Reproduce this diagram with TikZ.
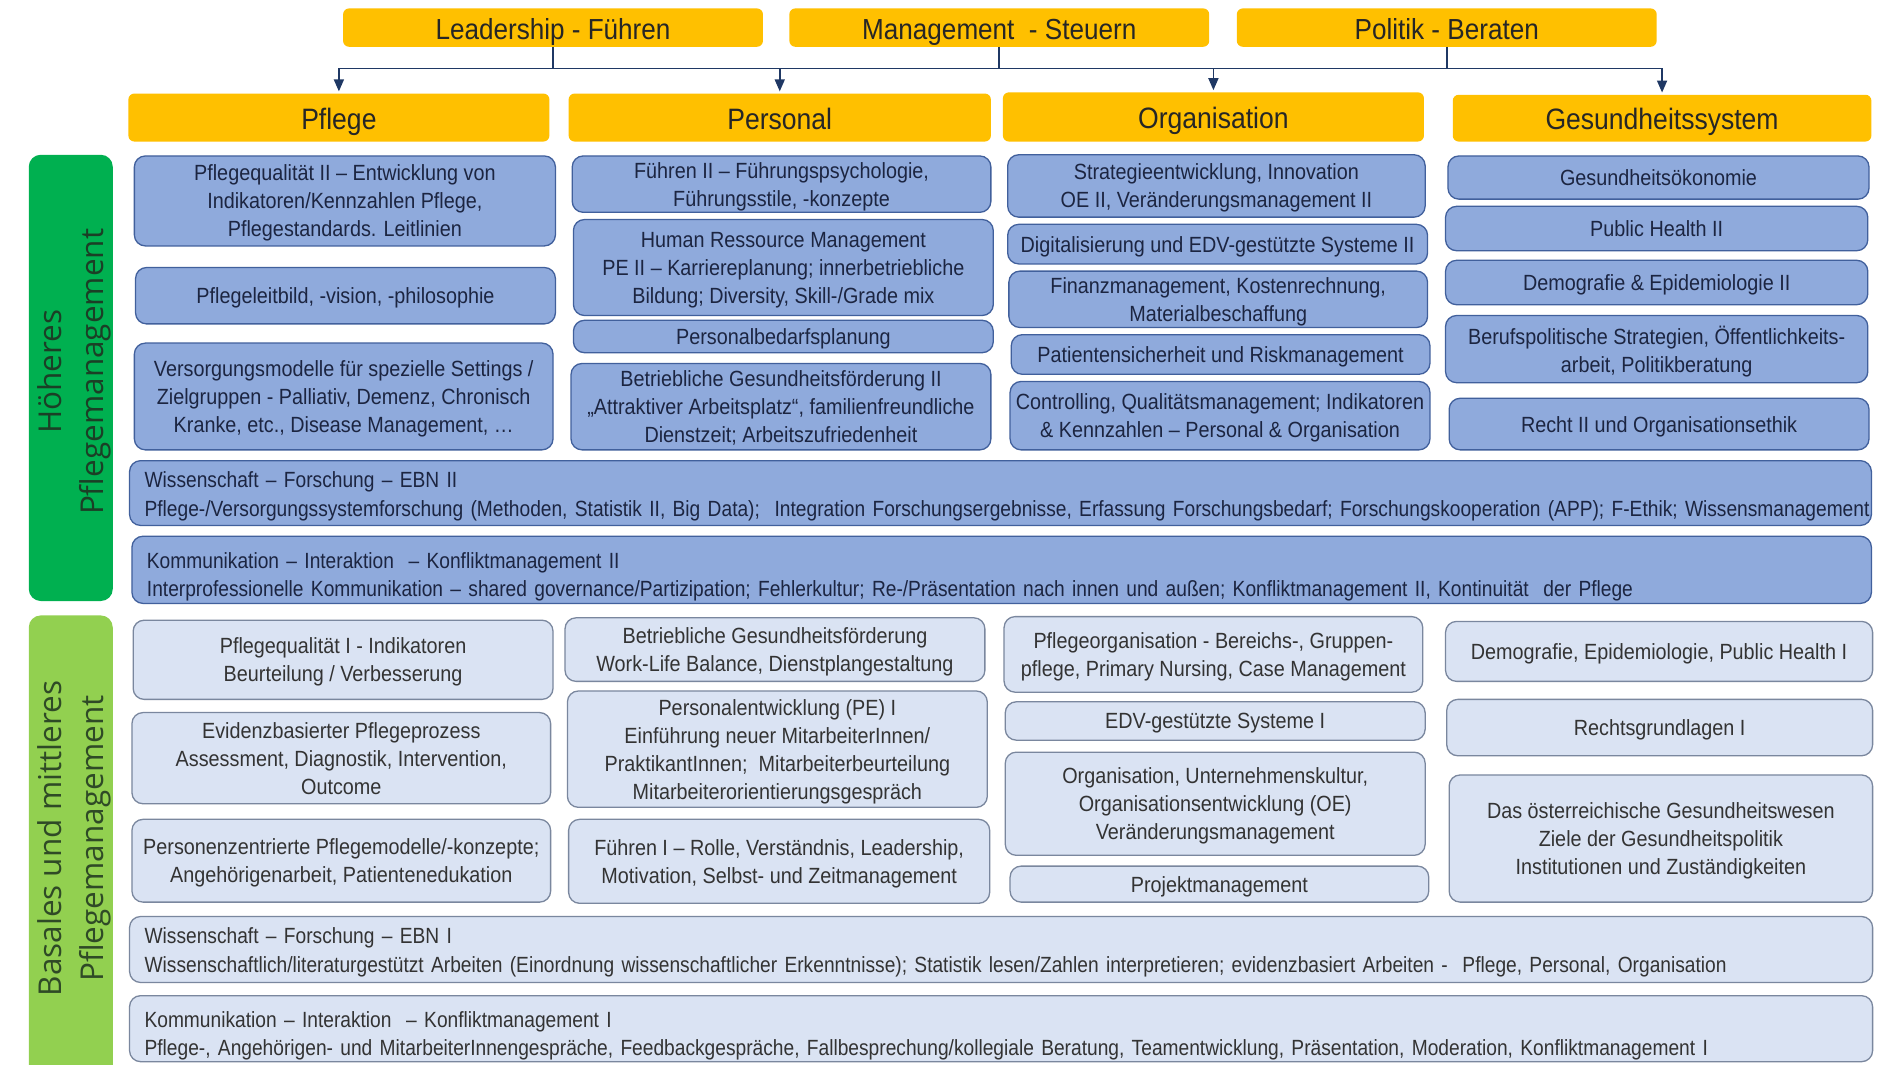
\documentclass[tikz,border=0pt]{standalone}
\usepackage{fontspec}
\setmainfont{Liberation Sans}[FakeStretch=0.9]
\newfontfamily\narrowfont{Liberation Sans}[FakeStretch=0.872]
\newfontfamily\sidefont{Open Sans}
\usetikzlibrary{arrows.meta,backgrounds}
\definecolor{ygold}{HTML}{FFC000}
\definecolor{gdark}{HTML}{00B050}
\definecolor{glight}{HTML}{92D050}
\definecolor{bfill}{HTML}{8FAADC}
\definecolor{bdraw}{HTML}{41609C}
\definecolor{lfill}{HTML}{DAE3F3}
\definecolor{ldraw}{HTML}{7A879E}
\definecolor{navy}{HTML}{1F3864}
\definecolor{btext}{HTML}{1C2541}
\definecolor{ltext}{HTML}{333333}
\definecolor{vline}{HTML}{404040}
\definecolor{sidetxtA}{HTML}{1B3F26}
\definecolor{sidetxtB}{HTML}{2F4A26}
\newcommand\mkbox[7]{%
  \pgfmathsetmacro\mkW{1.2*(#4-#2)}%
  \pgfmathsetmacro\mkH{1.2*(#5-#3)}%
  \pgfmathsetmacro\mkT{1.2*(#4-#2)-30}%
  \node[#6,minimum width=\mkW pt,minimum height=\mkH pt] (#1) at ({(#2+#4)/2},{(#3+#5)/2}) {#7};%
}
\newcommand\topstrut{\rule{0pt}{30pt}}
\newcommand\wstrut{\rule{0pt}{22pt}}
\tikzset{
  topbar/.style={fill=ygold,rounded corners=6pt,inner sep=0pt,text=black!85,font=\fontsize{29}{34}\selectfont,text height=25pt,text depth=2pt},
  catbar/.style={fill=ygold,rounded corners=6pt,inner sep=0pt,text=black!85,font=\fontsize{29.5}{34}\selectfont,text height=25pt,text depth=2pt},
  sidebar/.style={rounded corners=12pt,inner sep=0pt},
  sidetext/.style={font=\sidefont\fontsize{31.5}{42}\selectfont,align=center,inner sep=0pt},
  hcol/.style={draw=bdraw,fill=bfill,line width=1.3pt,rounded corners=11pt,inner sep=0pt,text=btext},
  lcol/.style={draw=ldraw,fill=lfill,line width=1.3pt,rounded corners=11pt,inner sep=0pt,text=ltext},
  hbox/.style={hcol,align=center,font=\fontsize{22}{28}\selectfont,text depth=0pt},
  lbox/.style={lcol,align=center,font=\fontsize{22}{28}\selectfont,text depth=0pt},
  hwide/.style={hcol,align=left,text width=\mkT pt,inner xsep=15pt,inner ysep=0pt,font=\narrowfont\fontsize{22}{28.5}\selectfont},
  lwide/.style={lcol,align=left,text width=\mkT pt,inner xsep=15pt,inner ysep=0pt,font=\narrowfont\fontsize{22}{28.5}\selectfont},
  con/.style={draw=navy,line width=1.6pt},
  vl/.style={draw=vline,line width=1.4pt},
}
\begin{document}
\begin{tikzpicture}[x=1.2pt,y=-1.2pt]
\fill[white] (0,0) rectangle (1568,887);
\useasboundingbox (0,0) rectangle (1568,887);
% top bars
\mkbox{lead}{286}{7}{636}{39}{topbar}{Leadership - Führen}
\mkbox{mgmt}{658}{7}{1008}{39}{topbar}{Management\ \ - Steuern}
\mkbox{pol}{1031}{7}{1381}{39}{topbar}{Politik - Beraten}
% category bars
\mkbox{pflege}{107}{78}{458}{118}{catbar}{Pflege}
\mkbox{personal}{474}{78}{826}{118}{catbar}{Personal}
\mkbox{orga}{836}{77}{1187}{118}{catbar}{Organisation}
\mkbox{gesund}{1211}{79}{1560}{118}{catbar}{Gesundheitssystem}
% side bars
\mkbox{hoeher}{24}{129}{94}{501}{sidebar,fill=gdark}{}
\node[sidetext,rotate=90,text=sidetxtA] (hoehertxt) at (62,310) {Höheres\\Pflegemanagement};
\mkbox{basal}{24}{513}{94}{900}{sidebar,fill=glight}{}
\node[sidetext,rotate=90,text=sidetxtB] (basaltxt) at (62,699) {Basales und mittleres\\Pflegemanagement};
% higher: Pflege
\mkbox{p1}{112}{130}{463}{205}{hbox}{Pflegequalität II – Entwicklung von\\Indikatoren/Kennzahlen Pflege,\\Pflegestandards. Leitlinien}
\mkbox{p2}{113}{223}{463}{270}{hbox}{Pflegeleitbild, -vision, -philosophie}
\mkbox{p3}{112}{286}{461}{375}{hbox}{Versorgungsmodelle für spezielle Settings /\\Zielgruppen - Palliativ, Demenz, Chronisch\\Kranke, etc., Disease Management, …}
% higher: Personal
\mkbox{q1}{477}{130}{826}{177}{hbox}{Führen II – Führungspsychologie,\\Führungsstile, -konzepte}
\mkbox{q2}{478}{183}{828}{263}{hbox}{Human Ressource Management\\PE II – Karriereplanung; innerbetriebliche\\Bildung; Diversity, Skill-/Grade mix}
\mkbox{q3}{478}{267}{828}{294}{hbox}{Personalbedarfsplanung}
\mkbox{q4}{476}{303}{826}{375}{hbox}{Betriebliche Gesundheitsförderung II\\„Attraktiver Arbeitsplatz“, familienfreundliche\\Dienstzeit; Arbeitszufriedenheit}
% higher: Organisation
\mkbox{o1}{840}{129}{1188}{181}{hbox}{Strategieentwicklung, Innovation\\OE II, Veränderungsmanagement II}
\mkbox{o2}{840}{187}{1190}{220}{hbox}{Digitalisierung und EDV-gestützte Systeme II}
\mkbox{o3}{841}{226}{1190}{273}{hbox}{Finanzmanagement, Kostenrechnung,\\Materialbeschaffung}
\mkbox{o4}{843}{279}{1192}{312}{hbox}{Patientensicherheit und Riskmanagement}
\mkbox{o5}{842}{318}{1192}{375}{hbox}{Controlling, Qualitätsmanagement; Indikatoren\\\& Kennzahlen – Personal \& Organisation}
% higher: Gesundheitssystem
\mkbox{g1}{1207}{130}{1558}{166}{hbox}{Gesundheitsökonomie}
\mkbox{g2}{1205}{172}{1557}{209}{hbox}{Public Health II}
\mkbox{g3}{1205}{217}{1557}{254}{hbox}{Demografie \& Epidemiologie II}
\mkbox{g4}{1205}{263}{1557}{319}{hbox}{Berufspolitische Strategien, Öffentlichkeits-\\arbeit, Politikberatung}
\mkbox{g5}{1208}{332}{1558}{375}{hbox}{Recht II und Organisationsethik}
% higher wide
\mkbox{wiss2}{108}{384}{1560}{438}{hwide}{\mbox{\wstrut Wissenschaft – Forschung – EBN II}\\\mbox{Pflege-/Versorgungssystemforschung (Methoden, Statistik II, Big Data);\ \ Integration Forschungsergebnisse, Erfassung Forschungsbedarf; Forschungskooperation (APP); F-Ethik; Wissensmanagement}}
\mkbox{kom2}{110}{447}{1560}{503}{hwide}{\mbox{\topstrut Kommunikation – Interaktion\ \ – Konfliktmanagement II}\\\mbox{Interprofessionelle Kommunikation – shared governance/Partizipation; Fehlerkultur; Re-/Präsentation nach innen und außen; Konfliktmanagement II, Kontinuität\ \ der Pflege}}
% lower: Pflege
\mkbox{lp1}{111}{517}{461}{583}{lbox}{Pflegequalität I - Indikatoren\\Beurteilung / Verbesserung}
\mkbox{lp2}{110}{594}{459}{670}{lbox}{Evidenzbasierter Pflegeprozess\\Assessment, Diagnostik, Intervention,\\Outcome}
\mkbox{lp3}{110}{683}{459}{752}{lbox}{Personenzentrierte Pflegemodelle/-konzepte;\\Angehörigenarbeit, Patientenedukation}
% lower: Personal
\mkbox{lq1}{471}{515}{821}{568}{lbox}{Betriebliche Gesundheitsförderung\\Work-Life Balance, Dienstplangestaltung}
\mkbox{lq2}{473}{576}{823}{673}{lbox}{Personalentwicklung (PE) I\\Einführung\ neuer MitarbeiterInnen/\\PraktikantInnen;\ \ Mitarbeiterbeurteilung\\Mitarbeiterorientierungsgespräch}
\mkbox{lq3}{474}{683}{825}{753}{lbox}{Führen I – Rolle, Verständnis, Leadership,\\Motivation, Selbst- und Zeitmanagement}
% lower: Organisation
\mkbox{lo1}{837}{514}{1186}{577}{lbox}{Pflegeorganisation - Bereichs-, Gruppen-\\pflege, Primary Nursing, Case Management}
\mkbox{lo2}{838}{585}{1188}{617}{lbox}{EDV-gestützte Systeme I}
\mkbox{lo3}{838}{627}{1188}{713}{lbox}{Organisation, Unternehmenskultur,\\Organisationsentwicklung (OE)\\Veränderungsmanagement}
\mkbox{lo4}{842}{722}{1191}{752}{lbox}{Projektmanagement}
% lower: Gesundheitssystem
\mkbox{lg1}{1205}{518}{1561}{568}{lbox}{Demografie, Epidemiologie, Public Health I}
\mkbox{lg2}{1206}{583}{1561}{630}{lbox}{Rechtsgrundlagen I}
\mkbox{lg3}{1208}{646}{1561}{752}{lbox}{Das österreichische Gesundheitswesen\\Ziele der Gesundheitspolitik\\Institutionen und Zuständigkeiten}
% lower wide
\mkbox{wiss1}{108}{764}{1561}{819}{lwide}{\mbox{\wstrut Wissenschaft – Forschung – EBN I}\\\mbox{Wissenschaftlich/literaturgestützt Arbeiten (Einordnung wissenschaftlicher Erkenntnisse); Statistik lesen/Zahlen interpretieren; evidenzbasiert Arbeiten -\ \ Pflege, Personal, Organisation}}
\mkbox{kom1}{108}{830}{1561}{885}{lwide}{\mbox{\topstrut Kommunikation – Interaktion\ \ – Konfliktmanagement I}\\\mbox{Pflege-, Angehörigen- und MitarbeiterInnengespräche, Feedbackgespräche, Fallbesprechung/kollegiale Beratung, Teamentwicklung, Präsentation, Moderation, Konfliktmanagement I}}
% connectors
\coordinate (hl) at (0,57);
\draw[con] (lead.south) -- (lead.south |- hl);
\draw[con] (mgmt.south) -- (mgmt.south |- hl);
\draw[con] (pol.south) -- (pol.south |- hl);
\draw[con] (pflege.north |- hl) -- (gesund.north |- hl);
\foreach \n in {pflege,personal,orga,gesund}
  \draw[con,-{Triangle[length=12pt,width=10pt]},shorten >=2pt] (\n.north |- hl) -- (\n.north);
\begin{scope}[on background layer]
\foreach \n in {pflege,personal,orga,gesund}
  \draw[vl] (\n.south) -- (\n.south |- kom1.center);
\end{scope}
\end{tikzpicture}
\end{document}
